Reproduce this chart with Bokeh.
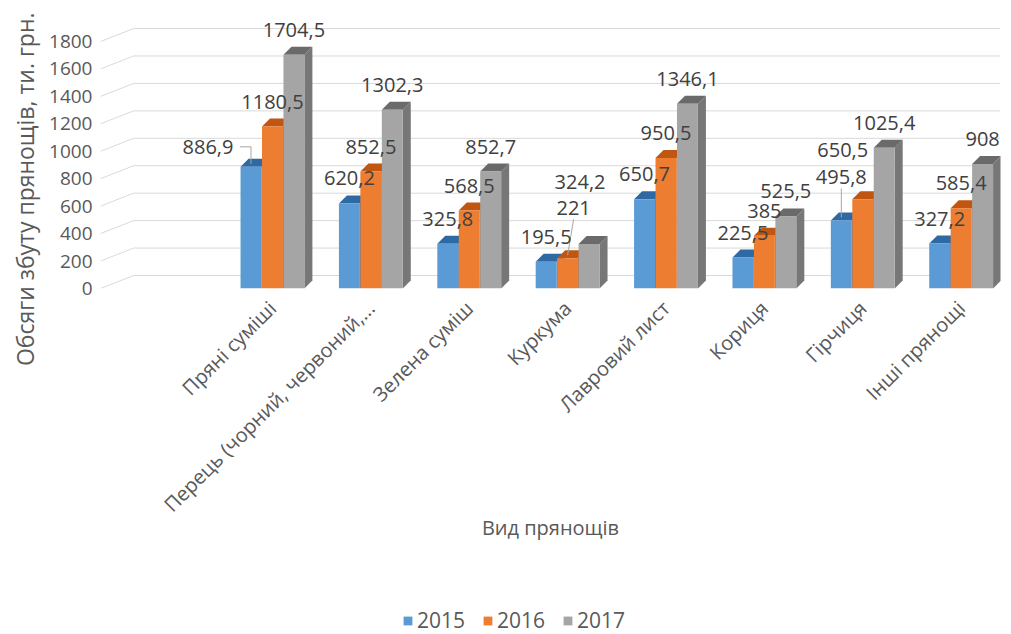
import math
from bokeh.plotting import figure
from bokeh.layouts import column
from bokeh.models import Range1d, FixedTicker, Legend, LegendItem, ColumnDataSource, Title
from bokeh.core.properties import value
from bokeh.embed import file_html
from bokeh.resources import INLINE

# ---------------- data ----------------
categories = ["Пряні суміші", "Перець (чорний, червоний,...", "Зелена суміш", "Куркума",
              "Лавровий лист", "Кориця", "Гірчиця", "Інші прянощі"]
years = ["2015", "2016", "2017"]
sales_2015 = [886.9, 620.2, 325.8, 195.5, 650.7, 225.5, 495.8, 327.2]
sales_2016 = [1180.5, 852.5, 568.5, 221.0, 950.5, 385.0, 650.5, 585.4]
sales_2017 = [1704.5, 1302.3, 852.7, 324.2, 1346.1, 525.5, 1025.4, 908.0]
y_ticks = [0, 200, 400, 600, 800, 1000, 1200, 1400, 1600, 1800]
y_title = "Обсяги збуту прянощів, ти. грн."
x_title = "Вид прянощів"

# ---------------- style ----------------
FONT = "Open Sans"
W = 1011
H_MAIN, H_LEG = 590, 44
LEFT, RIGHT, TOP = 100, 11, 8
BOTTOM = H_MAIN - TOP - 280
X0, X1 = -1.748, 7.40
Y0, Y1 = 0, 2041
PX_X = (W - LEFT - RIGHT) / (X1 - X0)   # px per x unit
PX_Y = (H_MAIN - TOP - BOTTOM) / (Y1 - Y0)   # px per y unit
front = ["#5B9BD5", "#ED7D31", "#A5A5A5"]
side = ["#3F73A6", "#B5581C", "#777777"]
topc = ["#2F69A3", "#C0560F", "#6A6A6A"]
offsets = [-0.218, 0.0, 0.218]
BAR_W = 0.213
DEPTH_X = 8 / PX_X
DEPTH_Y = 8 / PX_Y
GRID_SLANT_X = 33 / PX_X
GRID_SLANT_Y = 13 / PX_Y
LABEL_UP = -25
# manual nudges (px) for labels that Excel moved to avoid overlaps: (series, category) -> (dx, dy, leader)
nudges = {(0, 0): (-43, 5, "elbow"), (1, 3): (6, -25, "line"), (2, 3): (-9, -37, None),
          (0, 6): (0, -18, "line"), (1, 6): (-20, -24, None)}

series = [sales_2015, sales_2016, sales_2017]

def fmt(v):
    return f"{v:g}".replace(".", ",")

p = figure(width=W, height=H_MAIN, x_range=Range1d(X0, X1), y_range=Range1d(Y0, Y1),
           output_backend="svg", toolbar_location=None,
           min_border_left=LEFT, min_border_right=RIGHT, min_border_top=TOP, min_border_bottom=BOTTOM)
p.outline_line_color = None
p.xgrid.visible = False
p.ygrid.visible = False

# gridlines (3D back wall with slanted front part)
gx, gy = [], []
for v in y_ticks:
    gx.append([X0, X0 + GRID_SLANT_X, X1])
    gy.append([v, v + GRID_SLANT_Y, v + GRID_SLANT_Y])
p.multi_line(gx, gy, line_color="#D9D9D9", line_width=1)

# bars with 3D side and top faces
for s, vals in enumerate(series):
    xs_side, ys_side, xs_top, ys_top = [], [], [], []
    cx = [i + offsets[s] for i in range(len(categories))]
    for x, h in zip(cx, vals):
        xl, xr = x - BAR_W / 2, x + BAR_W / 2
        xs_side.append([xr, xr + DEPTH_X, xr + DEPTH_X, xr])
        ys_side.append([0, DEPTH_Y, h + DEPTH_Y, h])
        xs_top.append([xl, xr, xr + DEPTH_X, xl + DEPTH_X])
        ys_top.append([h, h, h + DEPTH_Y, h + DEPTH_Y])
    p.patches(xs_side, ys_side, fill_color=side[s], line_color=None)
    p.patches(xs_top, ys_top, fill_color=topc[s], line_color=None)
    p.vbar(x=cx, top=vals, bottom=0, width=BAR_W, fill_color=front[s], line_color=None)

# data labels
lx, ly, lt, lxo, lyo = [], [], [], [], []
lead_x, lead_y = [], []
for s, vals in enumerate(series):
    for i, v in enumerate(vals):
        bx = i + offsets[s]
        dx, dy, leader = nudges.get((s, i), (0, 0, None))
        lx.append(bx)
        ly.append(v)
        lt.append(fmt(v))
        lxo.append(dx)
        lyo.append(LABEL_UP + dy)
        if leader == "elbow":
            ycen = v - (LABEL_UP + dy) / PX_Y
            lead_x.append([bx + (dx + 32) / PX_X, bx, bx])
            lead_y.append([ycen, ycen, v + 3 / PX_Y])
        elif leader == "line":
            ybot = v - (LABEL_UP + dy + 11) / PX_Y
            lead_x.append([bx + dx / PX_X, bx])
            lead_y.append([ybot, v + 3 / PX_Y])
p.multi_line(lead_x, lead_y, line_color="#A6A6A6", line_width=1)
src = ColumnDataSource(dict(x=lx, y=ly, t=lt, xo=lxo, yo=lyo))
p.text(x="x", y="y", text="t", x_offset="xo", y_offset="yo", source=src,
       text_font=value(FONT), text_font_size="20px", text_color="#404040",
       text_align="center", text_baseline="middle")

# axes
p.yaxis.ticker = FixedTicker(ticks=y_ticks)
p.yaxis.axis_line_color = None
p.yaxis.major_tick_line_color = None
p.yaxis.minor_tick_line_color = None
p.yaxis.major_label_text_font = FONT
p.yaxis.major_label_text_font_size = "19px"
p.yaxis.major_label_text_color = "#595959"
p.yaxis.major_label_standoff = 2

# y-axis title: anchored at the top of the plot area, running downwards past it
yt = Title(text=y_title, align="right", offset=4, text_font=FONT, text_font_size="23px",
           text_font_style="normal", text_color="#595959", standoff=12)
p.add_layout(yt, "left")

p.xaxis.ticker = FixedTicker(ticks=list(range(len(categories))))
p.xaxis.major_label_overrides = {i: c for i, c in enumerate(categories)}
p.xaxis.major_label_orientation = math.pi / 4
p.xaxis.axis_line_color = None
p.xaxis.major_tick_line_color = None
p.xaxis.minor_tick_line_color = None
p.xaxis.major_label_text_font = FONT
p.xaxis.major_label_text_font_size = "20px"
p.xaxis.major_label_text_color = "#595959"
p.xaxis.major_label_standoff = 10
p.xaxis.axis_label = x_title
p.xaxis.axis_label_text_font = FONT
p.xaxis.axis_label_text_font_size = "20px"
p.xaxis.axis_label_text_font_style = "normal"
p.xaxis.axis_label_text_color = "#595959"
p.xaxis.axis_label_standoff = -16

# legend in a thin strip below
pl = figure(width=W, height=H_LEG, x_range=Range1d(0, 1), y_range=Range1d(0, 1),
            output_backend="svg", toolbar_location=None,
            min_border_left=0, min_border_right=0, min_border_top=0, min_border_bottom=0)
pl.axis.visible = False
pl.grid.visible = False
pl.outline_line_color = None
items = []
for s in range(len(years)):
    r = pl.vbar(x=[0.5], top=[0], bottom=[0], width=0, fill_color=front[s], line_color=None)
    items.append(LegendItem(label=years[s], renderers=[r]))
legend = Legend(items=items, orientation="horizontal", location=(302, 0),
                label_text_font=FONT, label_text_font_size="21px", label_text_color="#595959",
                glyph_width=11, glyph_height=11, spacing=17, label_standoff=4, padding=4,
                border_line_color=None, background_fill_alpha=0)
pl.add_layout(legend, "center")

layout = column(p, pl, spacing=0)
open("out.html", "w").write(file_html(layout, INLINE))
